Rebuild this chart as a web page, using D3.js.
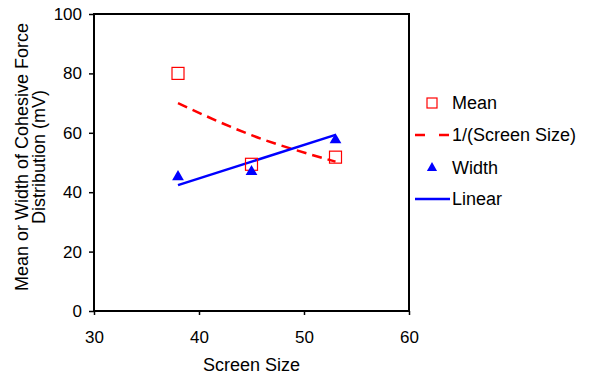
<!DOCTYPE html>
<html>
<head>
<meta charset="utf-8">
<script src="https://cdn.jsdelivr.net/npm/d3@7"></script>
<style>
  body { margin: 0; background: #fff; }
  text { font-family: "Liberation Sans", Arial, Helvetica, sans-serif; fill: #000; }
</style>
</head>
<body>
<script>
(function () {

    //chart data
    var screenSizes = [38, 45, 53];
    var meanValues = [80, 49.4, 51.8];
    var inverseValues = [70, 59.2, 50.3];
    var widthValues = [45.2, 46.9, 57.6];
    var linearValues = [42.4, 59.3]; //trend line at first and last screen size
    var xTicks = [30, 40, 50, 60];
    var yTicks = [0, 20, 40, 60, 80, 100];
    var legendLabels = ["Mean", "1/(Screen Size)", "Width", "Linear"];

    var width = 590, height = 376;
    var margin = {left: 94, top: 14, right: 181, bottom: 65};
    var innerW = width - margin.left - margin.right,
        innerH = height - margin.top - margin.bottom;

    var svg = d3.select("body").append("svg")
        .attr("width", width)
        .attr("height", height);

    var x = d3.scaleLinear().domain([30, 60]).range([margin.left, margin.left + innerW]);
    var y = d3.scaleLinear().domain([0, 100]).range([margin.top + innerH, margin.top]);

    //axes
    var xAxis = svg.append("g")
        .attr("transform", "translate(0," + (margin.top + innerH) + ")")
        .call(d3.axisBottom(x).tickValues(xTicks).tickSize(4).tickPadding(16));
    var yAxis = svg.append("g")
        .attr("transform", "translate(" + margin.left + ",0)")
        .call(d3.axisLeft(y).tickValues(yTicks).tickSize(5).tickPadding(7));
    [xAxis, yAxis].forEach(function (ax) {
        ax.select(".domain").remove();
        ax.selectAll("line").attr("stroke", "#000").attr("stroke-width", 1.5);
        ax.selectAll("text").style("font-size", "17px").attr("fill", "#000");
    });

    //plot frame
    svg.append("rect")
        .attr("x", margin.left)
        .attr("y", margin.top)
        .attr("width", innerW)
        .attr("height", innerH)
        .attr("fill", "none")
        .attr("stroke", "#000")
        .attr("stroke-width", 2);

    //1/(screen size) dashed curve
    var inverseLine = d3.line()
        .x(function (d, i) { return x(screenSizes[i]); })
        .y(function (d) { return y(d); })
        .curve(d3.curveMonotoneX);
    svg.append("path")
        .datum(inverseValues)
        .attr("d", inverseLine)
        .attr("fill", "none")
        .attr("stroke", "#ff0000")
        .attr("stroke-width", 2.5)
        .attr("stroke-dasharray", "10,6");

    //linear fit of width
    svg.append("line")
        .attr("x1", x(screenSizes[0]))
        .attr("y1", y(linearValues[0]))
        .attr("x2", x(screenSizes[screenSizes.length - 1]))
        .attr("y2", y(linearValues[1]))
        .attr("stroke", "#0000ff")
        .attr("stroke-width", 2.5);

    //mean squares
    svg.selectAll(".mean")
        .data(meanValues)
        .enter()
        .append("rect")
        .attr("class", "mean")
        .attr("x", function (d, i) { return x(screenSizes[i]) - 6; })
        .attr("y", function (d) { return y(d) - 6; })
        .attr("width", 12)
        .attr("height", 12)
        .attr("fill", "none")
        .attr("stroke", "#ff0000")
        .attr("stroke-width", 1.2);

    //width triangles
    var tri = d3.symbol().type(d3.symbolTriangle).size(60);
    svg.selectAll(".width")
        .data(widthValues)
        .enter()
        .append("path")
        .attr("class", "width")
        .attr("d", tri)
        .attr("transform", function (d, i) {
            return "translate(" + x(screenSizes[i]) + "," + y(d) + ")";
        })
        .attr("fill", "#0000ff");

    //legend
    var legendY = [103, 135, 168, 199];
    var legend = svg.append("g");
    legendLabels.forEach(function (lab, i) {
        var ly = legendY[i];
        if (i === 0) {
            legend.append("rect")
                .attr("x", 427).attr("y", ly - 5)
                .attr("width", 10).attr("height", 10)
                .attr("fill", "none").attr("stroke", "#ff0000").attr("stroke-width", 1.2);
        } else if (i === 1) {
            legend.append("line")
                .attr("x1", 415).attr("x2", 450).attr("y1", ly).attr("y2", ly)
                .attr("stroke", "#ff0000").attr("stroke-width", 2.5)
                .attr("stroke-dasharray", "10,14");
        } else if (i === 2) {
            legend.append("path")
                .attr("d", d3.symbol().type(d3.symbolTriangle).size(45))
                .attr("transform", "translate(432," + ly + ")")
                .attr("fill", "#0000ff");
        } else {
            legend.append("line")
                .attr("x1", 415).attr("x2", 450).attr("y1", ly).attr("y2", ly)
                .attr("stroke", "#0000ff").attr("stroke-width", 2.5);
        }
        legend.append("text")
            .attr("x", 452)
            .attr("y", ly)
            .attr("dy", "0.35em")
            .style("font-size", "18px")
            .text(lab);
    });

    //axis titles
    svg.append("text")
        .attr("x", margin.left + innerW / 2)
        .attr("y", 371)
        .attr("text-anchor", "middle")
        .style("font-size", "18px")
        .text("Screen Size");

    var yTitle = svg.append("text")
        .attr("transform", "translate(28,157) rotate(-90)")
        .attr("text-anchor", "middle")
        .style("font-size", "18px");
    yTitle.append("tspan").attr("x", 0).attr("dy", 0).text("Mean or Width of Cohesive Force");
    yTitle.append("tspan").attr("x", 0).attr("dy", "17px").text("Distribution (mV)");

})();
</script>
</body>
</html>
